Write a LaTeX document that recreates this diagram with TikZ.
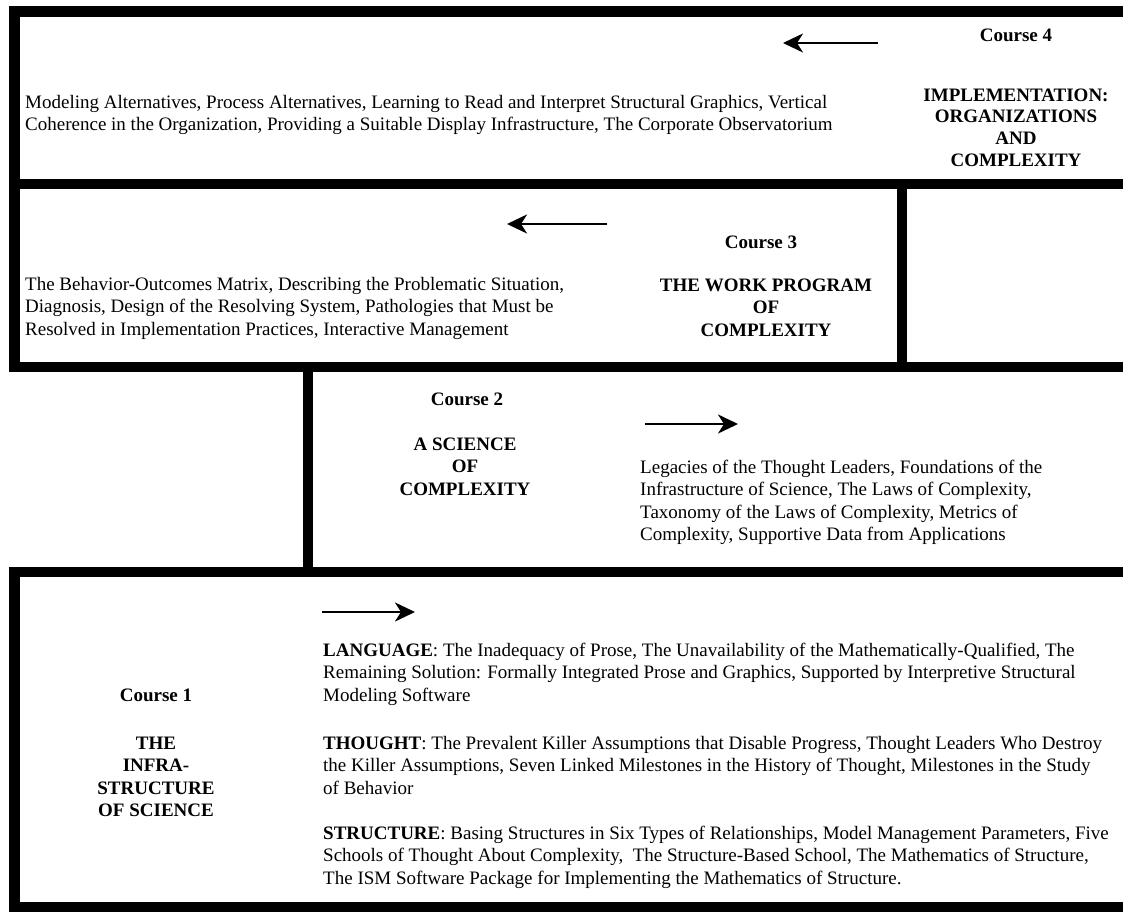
\documentclass[tikz,border=0pt]{standalone}
\usepackage{fontspec}
\setmainfont{Liberation Serif}
\usetikzlibrary{arrows.meta}
\newcommand\cbody{\fontsize{19}{22.5}\selectfont}
\newcommand\chead{\fontsize{19}{22.5}\selectfont\bfseries}
\newcommand\cheadb{\fontsize{19}{21.7}\selectfont\bfseries}
\tikzset{
  frame/.style={line width=10.5pt},
  flow/.style={line width=2.4pt,-{Stealth[length=20pt,width=19pt,inset=6pt]}},
  body/.style={anchor=north west,inner sep=0pt,align=left,font=\cbody},
  head/.style={anchor=north,inner sep=0pt,align=center,font=\chead},
}
\begin{document}
\begin{tikzpicture}[x=1pt,y=-1pt]
\useasboundingbox (0,0) rectangle (1123,915);
% frame lines
\draw[frame] (9,11.5) -- (1123,11.5);
\draw[frame] (9,184) -- (1123,184);
\draw[frame] (9,367) -- (1123,367);
\draw[frame] (9,572) -- (1123,572);
\draw[frame] (9,907) -- (1123,907);
\draw[frame] (14.5,6) -- (14.5,372);
\draw[frame] (14.5,567) -- (14.5,912);
\draw[frame] (902,184) -- (902,367);
\draw[frame] (308,367) -- (308,572);

% Course 4
\node[head] (c4) at (1016,25.25) {\strut Course 4};
\node[head,font=\cheadb] (c4t) at (1016,85.8) {\strut IMPLEMENTATION:\\ORGANIZATIONS\\AND\\COMPLEXITY};
\node[body] (c4b) at (25,92.25) {\strut Modeling Alternatives, Process Alternatives, Learning to Read and Interpret Structural Graphics, Vertical\\Coherence in the Organization, Providing a Suitable Display Infrastructure, The Corporate Observatorium};
\coordinate (a4s) at (878,43);
\coordinate (a4e) at (783,43);
\draw[flow] (a4s) -- (a4e);

% Course 3
\node[head] (c3) at (761,233) {\strut Course 3};
\node[head] (c3t) at (766,275.25) {\strut THE WORK PROGRAM\\OF\\COMPLEXITY};
\node[body] (c3b) at (25,274.25) {\strut The Behavior-Outcomes Matrix, Describing the Problematic Situation,\\Diagnosis, Design of the Resolving System, Pathologies that Must be\\Resolved in Implementation Practices, Interactive Management};
\coordinate (a3s) at (607,224);
\coordinate (a3e) at (507,224);
\draw[flow] (a3s) -- (a3e);

% Course 2
\node[head] (c2) at (467,389.25) {\strut Course 2};
\node[head] (c2t) at (465,434.25) {\strut A SCIENCE\\OF\\COMPLEXITY};
\node[body] (c2b) at (640,457.25) {\strut Legacies of the Thought Leaders, Foundations of the\\Infrastructure of Science, The Laws of Complexity,\\Taxonomy of the Laws of Complexity, Metrics of\\Complexity, Supportive Data from Applications};
\coordinate (a2s) at (645,424);
\coordinate (a2e) at (738,424);
\draw[flow] (a2s) -- (a2e);

% Course 1
\node[head] (c1) at (156,685.25) {\strut Course 1};
\node[head] (c1t) at (156,733.25) {\strut THE\\INFRA-\\STRUCTURE\\OF SCIENCE};
\node[body] (lang) at (323,640.25) {\strut\textbf{LANGUAGE}: The Inadequacy of Prose, The Unavailability of the Mathematically-Qualified, The\\Remaining Solution: Formally Integrated Prose and Graphics, Supported by Interpretive Structural\\Modeling Software};
\node[body] (thought) at (323,733.25) {\strut\textbf{THOUGHT}: The Prevalent Killer Assumptions that Disable Progress, Thought Leaders Who Destroy\\the Killer Assumptions, Seven Linked Milestones in the History of Thought, Milestones in the Study\\of Behavior};
\node[body] (struct) at (323,823.25) {\strut\textbf{STRUCTURE}: Basing Structures in Six Types of Relationships, Model Management Parameters, Five\\Schools of Thought About Complexity, \ The Structure-Based School, The Mathematics of Structure,\\The ISM Software Package for Implementing the Mathematics of Structure.};
\coordinate (a1s) at (322,612);
\coordinate (a1e) at (415,612);
\draw[flow] (a1s) -- (a1e);
\end{tikzpicture}
\end{document}
